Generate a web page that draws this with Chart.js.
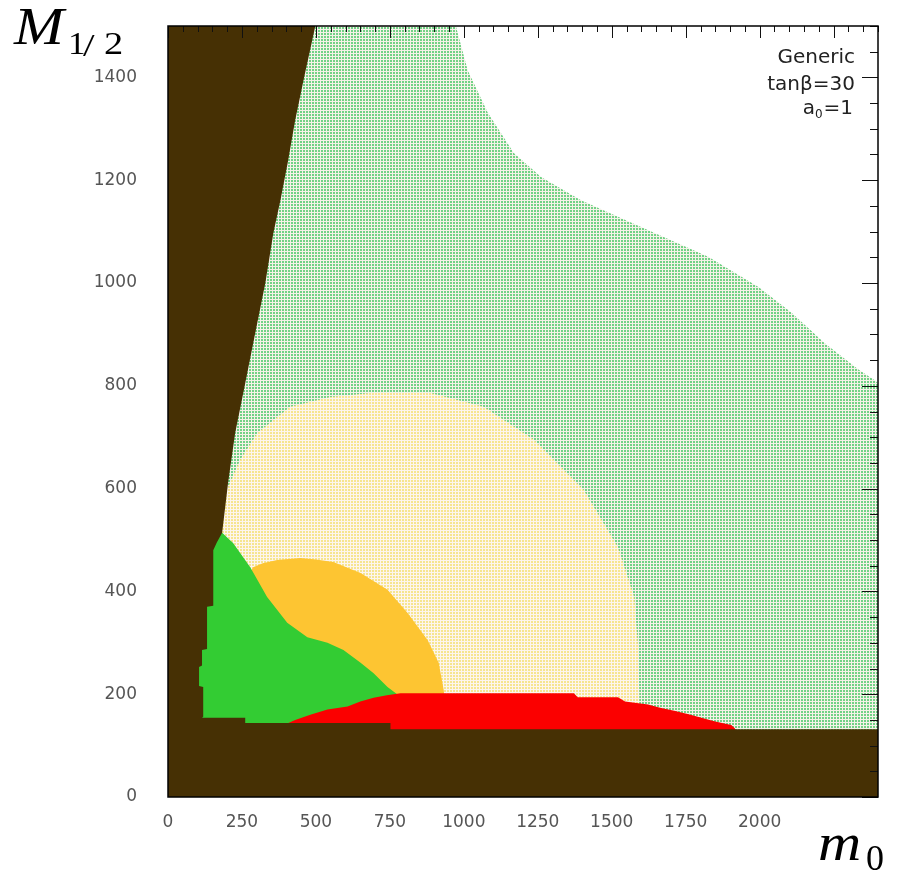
<!DOCTYPE html>
<html>
<head>
<meta charset="utf-8">
<script src="https://cdn.jsdelivr.net/npm/chart.js@4/dist/chart.umd.min.js"></script>
<style>
  html, body { margin: 0; padding: 0; background: #ffffff; }
  #wrap { width: 897px; height: 879px; }
</style>
</head>
<body>
<div id="wrap"><canvas id="c" width="897" height="879"></canvas></div>
<script>
// Axis ranges and tick steps (m0 horizontal, M1/2 vertical, both in GeV)
const m0Range = [0, 2400];
const mHalfRange = [0, 1500];
const m0LabelStep = 250;
const mHalfLabelStep = 200;

// Region boundaries in the (m0, M1/2) plane, as [m0, M1/2] vertices.
// Theoretically excluded region (no EWSB / charged LSP), drawn last
const excludedRegion = [
  [0, 0], [2400, 0], [2400, 132], [752, 132], [752, 144], [261, 144], [261, 154],
  [115, 154], [119, 156], [119, 214], [105, 216], [105, 253], [115, 256], [115, 286],
  [132, 288], [132, 370], [153, 372], [153, 480], [165, 495], [183, 514],
  [203, 611], [227, 708], [261, 805], [295, 903], [329, 1000], [356, 1097],
  [380, 1161], [405, 1235], [430, 1317], [460, 1400], [498, 1500], [0, 1500]
];
// Allowed region (light green dots)
const allowedRegion = [
  [100, 100], [2400, 100], [2400, 805], [2389, 811], [2335, 831], [2220, 883],
  [2108, 942], [1996, 992], [1826, 1051], [1599, 1109], [1396, 1161], [1261, 1206],
  [1169, 1253], [1081, 1331], [1013, 1414], [973, 1500], [100, 1500]
];
// Cream dotted region
const creamRegion = [
  [203, 603], [244, 656], [302, 708], [413, 759], [549, 778], [684, 786], [888, 786],
  [1067, 759], [1237, 695], [1406, 597], [1521, 486], [1576, 389], [1589, 292],
  [1593, 202], [1593, 170], [700, 170], [300, 300], [150, 560]
];
// Orange region
const orangeRegion = [
  [288, 447], [320, 455], [369, 461], [447, 465], [500, 462], [559, 457], [651, 436],
  [742, 403], [810, 358], [878, 305], [915, 261], [932, 208], [935, 190], [786, 185],
  [500, 250], [350, 330], [270, 430]
];
// Solid green region
const greenRegion = [
  [90, 130], [800, 130], [800, 190], [786, 195], [742, 214], [695, 241], [651, 261],
  [593, 286], [539, 300], [471, 311], [403, 339], [335, 389], [278, 447], [220, 494],
  [183, 514], [90, 514]
];
// Red band along the bottom
const redRegion = [
  [407, 120], [407, 144], [430, 150], [481, 160], [539, 170], [607, 176], [650, 186],
  [695, 193], [740, 198], [786, 202], [1372, 202], [1385, 194], [1521, 194],
  [1545, 186], [1623, 180], [1660, 174], [1711, 168], [1760, 161], [1803, 154],
  [1850, 147], [1904, 140], [1915, 134], [1930, 120]
];

const infoLines = ['Generic', 'tan\u03b2=30'];

// Small dotted fill used for the scanned regions
function dotPattern(bg, dot, cell, size) {
  const c = document.createElement('canvas');
  c.width = cell; c.height = cell;
  const g = c.getContext('2d');
  g.fillStyle = bg; g.fillRect(0, 0, cell, cell);
  g.fillStyle = dot; g.fillRect(0, 0, size, size);
  return g.createPattern(c, 'repeat');
}

function closed(pts) {
  return pts.concat([pts[0]]).map(p => ({ x: p[0], y: p[1] }));
}

function region(pts, fillStyle, order) {
  return {
    data: closed(pts),
    backgroundColor: fillStyle,
    borderColor: 'rgba(0,0,0,0)',
    borderWidth: 0,
    pointRadius: 0,
    pointHoverRadius: 0,
    tension: 0,
    fill: 'shape',
    order: order
  };
}

const greenDots = dotPattern('#f5f2e8', '#72d286', 3, 2);
const creamDots = dotPattern('#fdf5ee', '#f6e590', 3, 2);

// Draws text with a horizontal stretch, left edge at x
function stretched(ctx, text, x, y, sx) {
  ctx.save();
  ctx.translate(x, y);
  ctx.scale(sx, 1);
  ctx.fillText(text, 0, 0);
  ctx.restore();
}

// Frame, inward tick marks on the top and right edges, and all text annotations
const framePlugin = {
  id: 'frame',
  afterDraw(chart) {
    const { ctx, chartArea: a, scales: { x, y } } = chart;
    ctx.save();
    ctx.strokeStyle = '#111';
    ctx.lineWidth = 1;
    ctx.beginPath();
    for (let v = 0; v <= m0Range[1]; v += 50) {
      const px = Math.round(x.getPixelForValue(v)) + 0.5;
      const len = v % m0LabelStep === 0 ? 12 : 6;
      ctx.moveTo(px, a.top); ctx.lineTo(px, a.top + len);
    }
    for (let v = 0; v <= mHalfRange[1]; v += 50) {
      const py = Math.round(y.getPixelForValue(v)) + 0.5;
      const len = v % mHalfLabelStep === 0 ? 16 : 8;
      ctx.moveTo(a.right, py); ctx.lineTo(a.right - len, py);
    }
    ctx.stroke();
    ctx.lineWidth = 1.5;
    ctx.strokeStyle = '#000';
    ctx.strokeRect(a.left, a.top, a.right - a.left, a.bottom - a.top);

    // Info box
    ctx.fillStyle = '#222';
    ctx.font = '20px "DejaVu Sans"';
    ctx.textAlign = 'right';
    ctx.textBaseline = 'alphabetic';
    ctx.fillText(infoLines[0], 855, 63);
    ctx.fillText(infoLines[1], 855, 90);
    const rEdge = 853;
    ctx.fillText('=1', rEdge, 114);
    const w1 = ctx.measureText('=1').width;
    ctx.font = '12px "DejaVu Sans"';
    ctx.fillText('0', rEdge - w1 - 1, 118);
    const w2 = ctx.measureText('0').width;
    ctx.font = '20px "DejaVu Sans"';
    ctx.fillText('a', rEdge - w1 - w2 - 1, 114);

    // Axis titles
    ctx.fillStyle = '#000';
    ctx.textAlign = 'left';
    ctx.font = 'italic 52px "Liberation Serif"';
    stretched(ctx, 'M', 14, 44, 1.15);
    ctx.font = '32px "Liberation Serif"';
    stretched(ctx, '1', 68, 54, 1.1);
    stretched(ctx, '/', 83, 56, 1.3);
    stretched(ctx, '2', 104, 54, 1.2);
    ctx.font = 'italic 52px "Liberation Serif"';
    stretched(ctx, 'm', 818, 860, 1.15);
    ctx.font = '36px "Liberation Serif"';
    ctx.fillText('0', 866, 870);
    ctx.restore();
  }
};

new Chart(document.getElementById('c'), {
  type: 'line',
  data: {
    datasets: [
      region(excludedRegion, '#463004', 0),
      region(redRegion, '#fb0000', 1),
      region(greenRegion, '#33cc33', 2),
      region(orangeRegion, '#fdc532', 3),
      region(creamRegion, creamDots, 4),
      region(allowedRegion, greenDots, 5)
    ]
  },
  options: {
    responsive: false,
    animation: false,
    events: [],
    layout: { padding: { top: 26, right: 19, left: 0, bottom: 0 } },
    plugins: { legend: { display: false }, tooltip: { enabled: false } },
    scales: {
      x: {
        type: 'linear',
        min: m0Range[0], max: m0Range[1],
        grid: { display: false, drawTicks: false },
        border: { display: false },
        afterFit(s) { s.height = 82; s.paddingLeft = 0; s.paddingRight = 0; },
        ticks: {
          stepSize: m0LabelStep,
          autoSkip: false,
          maxRotation: 0,
          padding: 15,
          color: '#555',
          font: { family: '"DejaVu Sans"', size: 17 },
          callback: v => (v % m0LabelStep === 0 ? String(v) : null)
        }
      },
      y: {
        type: 'linear',
        min: mHalfRange[0], max: mHalfRange[1],
        grid: { display: false, drawTicks: false },
        border: { display: false },
        afterFit(s) { s.width = 168; s.paddingTop = 0; s.paddingBottom = 0; },
        ticks: {
          stepSize: mHalfLabelStep,
          autoSkip: false,
          padding: 31,
          color: '#555',
          font: { family: '"DejaVu Sans"', size: 17 },
          callback: v => (v % mHalfLabelStep === 0 ? String(v) : null)
        }
      }
    }
  },
  plugins: [framePlugin]
});
</script>
</body>
</html>
